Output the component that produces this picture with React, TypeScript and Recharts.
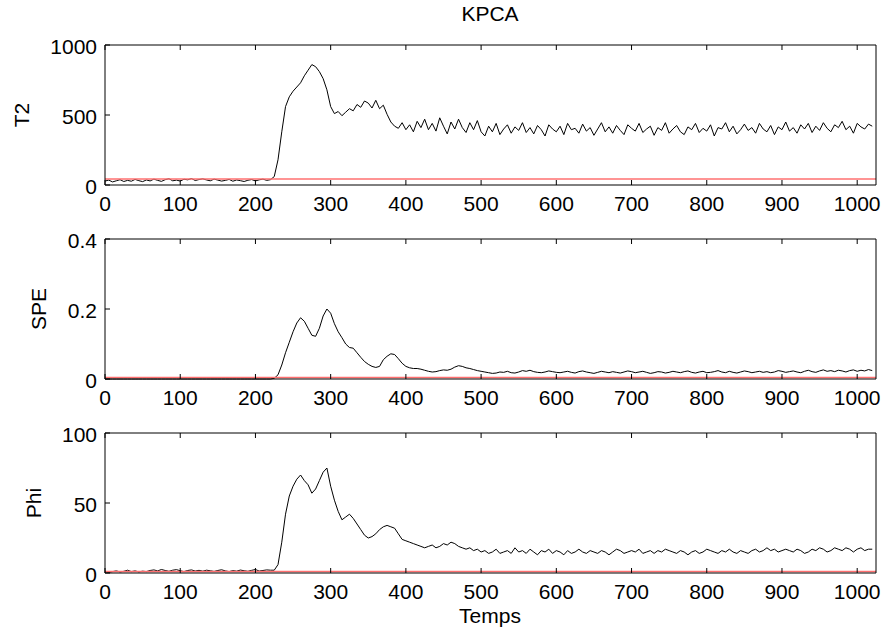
import { Line, LineChart, ReferenceLine, XAxis, YAxis } from 'recharts'

const FONT = '"Liberation Sans", Arial, sans-serif'

// time index, one point every 5 samples
const samples = Array.from({ length: 205 }, (_, i) => i * 5)

const xTicks = [0, 100, 200, 300, 400, 500, 600, 700, 800, 900, 1000]

const t2 = [
  28, 35, 22, 30, 38, 25, 33, 27, 40, 31, 24, 36, 29, 42, 33, 26, 38, 45, 30, 35, 28, 41, 37, 46, 32,
  39, 44, 36, 30, 42, 35, 28, 33, 40, 27, 36, 31, 25, 34, 39, 29, 37, 42, 33, 38,
  60, 180, 380, 560, 630, 670, 700, 730, 780, 820, 860, 845, 810, 760, 680, 560, 510, 525, 495, 520,
  545, 530, 575, 555, 600, 585, 550, 605, 545, 570, 505, 450, 420, 405, 445, 395,
  430, 380, 455, 410, 470, 395, 440, 385, 480, 420, 365, 450, 400, 470, 410, 375, 445, 395, 460, 380,
  350, 420, 380, 440, 360, 400, 430, 370, 415, 390,
  445, 375, 410, 365, 425, 395, 350, 430, 400, 380,
  420, 360, 440, 395, 405, 370, 435, 385, 410, 355,
  400, 445, 380, 415, 370, 425, 390, 360, 430, 405,
  385, 440, 375, 400, 420, 355, 410, 390, 445, 370,
  400, 425, 380, 360, 415, 395, 440, 375, 405, 385,
  430, 350, 410, 400, 445, 380, 420, 365, 395, 435,
  390, 410, 370, 440, 400, 380, 425, 360, 415, 395,
  450, 385, 410, 370, 430, 400, 440, 375, 420, 390,
  445, 405, 380, 430, 410, 455, 395, 420, 370, 440,
  415, 400, 435, 420,
]

const spe = [
  0, 0, 0, 0, 0, 0, 0, 0, 0, 0, 0, 0, 0, 0, 0, 0, 0, 0, 0, 0, 0, 0, 0, 0, 0,
  0, 0, 0, 0, 0, 0, 0, 0, 0, 0, 0, 0, 0, 0, 0, 0, 0, 0, 0, 0,
  0.002, 0.012, 0.04, 0.075, 0.105, 0.135, 0.16, 0.175, 0.165, 0.145, 0.125, 0.122, 0.145, 0.18,
  0.2, 0.188, 0.158, 0.135, 0.118, 0.1, 0.09, 0.088, 0.075, 0.062, 0.05, 0.042, 0.036, 0.033,
  0.036, 0.055, 0.065, 0.072, 0.07, 0.058, 0.045, 0.036,
  0.032, 0.03, 0.03, 0.028, 0.025, 0.022, 0.02, 0.021, 0.024, 0.026,
  0.025, 0.028, 0.034, 0.038, 0.036, 0.032, 0.03, 0.027, 0.024, 0.022,
  0.02, 0.018, 0.016, 0.017, 0.02, 0.019, 0.022, 0.018, 0.017, 0.02,
  0.024, 0.022, 0.025, 0.021, 0.019, 0.018, 0.02, 0.023, 0.021, 0.019,
  0.018, 0.02, 0.022, 0.019, 0.017, 0.021, 0.023, 0.02, 0.018, 0.016,
  0.019, 0.022, 0.02, 0.018, 0.021, 0.019, 0.017, 0.02, 0.023, 0.021,
  0.018, 0.02, 0.022, 0.019, 0.016, 0.018, 0.021, 0.02, 0.017, 0.019,
  0.022, 0.02, 0.018, 0.021, 0.023, 0.019, 0.017, 0.02, 0.022, 0.018,
  0.019, 0.021, 0.024, 0.02, 0.018, 0.022, 0.019, 0.017, 0.02, 0.023,
  0.021, 0.018, 0.02, 0.022, 0.019, 0.021, 0.018, 0.02, 0.024, 0.022,
  0.019, 0.021, 0.023, 0.02, 0.018, 0.022, 0.025, 0.021, 0.019, 0.023,
  0.026, 0.022, 0.024, 0.021, 0.025, 0.023, 0.02, 0.024, 0.026, 0.022,
  0.025, 0.023, 0.027, 0.024,
]

const phi = [
  1, 0.5, 1, 1.5, 0.8, 1.2, 2, 1, 1.5, 0.8, 1.3, 1, 1.8, 2.2, 1.5, 2.5, 1.8, 1.2, 2, 2.4, 1.6, 1,
  1.8, 2.2, 1.4, 1.9, 1.3, 2, 1.6, 1.1, 1.8, 2.3, 1.5, 1, 1.7, 1.3, 2.1, 1.6, 1.2, 1.9, 2.5, 1.4,
  1.8, 2.2, 2,
  2, 6, 22, 42, 55, 62, 67, 70, 66, 63, 57, 60, 66, 72, 75, 62, 52, 44, 38, 40, 42, 39, 35, 31, 27,
  25, 26, 28, 31, 33, 34, 33, 32, 28, 24, 23,
  22, 21, 20, 19, 18, 19, 20, 18, 19, 21, 20, 22, 21, 19, 18, 17, 18, 16, 17, 15,
  16, 14, 15, 17, 14, 15, 16, 14, 18, 15,
  16, 14, 17, 15, 13, 16, 15, 17, 14, 16,
  15, 13, 16, 14, 15, 17, 15, 14, 16, 15,
  14, 16, 15, 13, 15, 17, 16, 14, 15, 16,
  15, 17, 14, 15, 16, 14, 16, 15, 17, 16,
  15, 14, 16, 15, 13, 15, 16, 14, 15, 17,
  16, 15, 14, 16, 15, 17, 15, 14, 16, 15,
  14, 16, 17, 15, 16, 18, 16, 17, 15, 16,
  17, 16, 15, 17, 16, 14, 15, 17, 16, 18,
  17, 15, 16, 18, 17, 16, 18, 17, 15, 17,
  18, 16, 17, 17,
]

const limits = { t2: 43, spe: 0.004, phi: 1 }

const rows = samples.map((x, i) => ({ x, t2: t2[i], spe: spe[i], phi: phi[i] }))

const panels = [
  { key: 't2', label: 'T2', top: 45, domain: [0, 1000], ticks: [0, 500, 1000], labelX: 29 },
  { key: 'spe', label: 'SPE', top: 239, domain: [0, 0.4], ticks: [0, 0.2, 0.4], labelX: 46 },
  { key: 'phi', label: 'Phi', top: 433, domain: [0, 100], ticks: [0, 50, 100], labelX: 41 },
]

const PLOT_H = 140
const FS = 21

function bottomTick({ x, y, payload }: any) {
  return (
    <g>
      <line x1={x} y1={y} x2={x} y2={y - 5} stroke="#000" />
      <text x={x} y={y + 26} textAnchor="middle" fontSize={FS} fontFamily={FONT} fill="#000">
        {payload.value}
      </text>
    </g>
  )
}

function topTick({ x, y }: any) {
  return <line x1={x} y1={y} x2={x} y2={y + 5} stroke="#000" />
}

function leftTick({ x, y, payload }: any) {
  return (
    <g>
      <line x1={x} y1={y} x2={x + 5} y2={y} stroke="#000" />
      <text x={x - 8} y={y + 9} textAnchor="end" fontSize={FS} fontFamily={FONT} fill="#000">
        {payload.value}
      </text>
    </g>
  )
}

function rightTick({ x, y }: any) {
  return <line x1={x} y1={y} x2={x - 5} y2={y} stroke="#000" />
}

function Panel({ panel }: { panel: (typeof panels)[number] }) {
  const limit = limits[panel.key as keyof typeof limits]
  return (
    <div style={{ position: 'absolute', left: 0, top: panel.top - 10 }}>
      <LineChart width={883} height={PLOT_H + 40} data={rows} margin={{ top: 0, right: 0, bottom: 0, left: 0 }}>
        <XAxis
          xAxisId="top"
          orientation="top"
          type="number"
          dataKey="x"
          domain={[0, 1025]}
          ticks={xTicks}
          height={10}
          tickSize={0}
          tickMargin={0}
          tick={topTick}
          axisLine={{ stroke: '#000' }}
        />
        <XAxis
          type="number"
          dataKey="x"
          domain={[0, 1025]}
          ticks={xTicks}
          height={30}
          tickSize={0}
          tickMargin={0}
          tick={bottomTick}
          axisLine={{ stroke: '#000' }}
        />
        <YAxis
          type="number"
          domain={panel.domain}
          ticks={panel.ticks}
          width={105}
          tickSize={0}
          tickMargin={0}
          tick={leftTick}
          axisLine={{ stroke: '#000' }}
        />
        <YAxis
          yAxisId="right"
          orientation="right"
          type="number"
          domain={panel.domain}
          ticks={panel.ticks}
          width={7}
          tickSize={0}
          tickMargin={0}
          tick={rightTick}
          axisLine={{ stroke: '#000' }}
        />
        <Line
          dataKey={panel.key}
          stroke="#000"
          strokeWidth={1}
          dot={false}
          type="linear"
          isAnimationActive={false}
        />
        <ReferenceLine y={limit} stroke="#ff7070" strokeWidth={1.5} />
      </LineChart>
    </div>
  )
}

export default function App() {
  return (
    <div style={{ position: 'absolute', left: 0, top: 0, width: 883, height: 632, background: '#fff' }}>
      {panels.map((p) => (
        <Panel key={p.key} panel={p} />
      ))}
      <svg width={883} height={632} style={{ position: 'absolute', left: 0, top: 0, pointerEvents: 'none' }}>
        <g fontFamily={FONT} fontSize={FS} fill="#000">
          <text x={490} y={21} textAnchor="middle">KPCA</text>
          {panels.map((p) => (
            <text
              key={p.key}
              x={p.labelX}
              y={p.top + PLOT_H / 2}
              textAnchor="middle"
              transform={`rotate(-90 ${p.labelX} ${p.top + PLOT_H / 2})`}
            >
              {p.label}
            </text>
          ))}
          <text x={490} y={623} textAnchor="middle">Temps</text>
        </g>
      </svg>
    </div>
  )
}
